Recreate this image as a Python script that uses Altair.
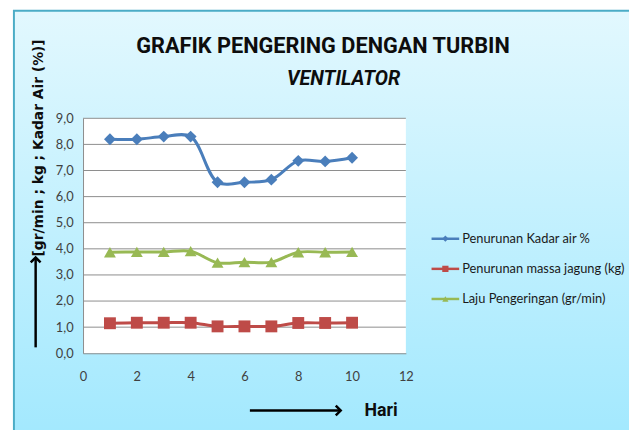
import altair as alt
import pandas as pd

# ---- data ----
hari = [1, 2, 3, 4, 5, 6, 7, 8, 9, 10]
kadar_air = [8.2, 8.2, 8.3, 8.3, 6.55, 6.55, 6.65, 7.37, 7.35, 7.49]
massa_jagung = [1.15, 1.17, 1.17, 1.17, 1.03, 1.03, 1.03, 1.16, 1.16, 1.17]
laju = [3.87, 3.88, 3.88, 3.91, 3.47, 3.49, 3.49, 3.87, 3.87, 3.88]

series_names = ["Penurunan Kadar air %", "Penurunan massa jagung (kg)", "Laju Pengeringan (gr/min)"]
series_colors = ["#4a7ebb", "#be4b48", "#98b954"]
series_shapes = ["diamond", "square", "triangle-up"]
x_ticks = [0, 2, 4, 6, 8, 10, 12]
y_ticks = [0, 1, 2, 3, 4, 5, 6, 7, 8, 9]

title1 = "GRAFIK PENGERING DENGAN TURBIN"
title2 = "VENTILATOR"
y_title = "[gr/min ; kg ; Kadar Air (%)]"
x_title = "Hari"

rows = []
for name, vals in zip(series_names, [kadar_air, massa_jagung, laju]):
    for h, v in zip(hari, vals):
        rows.append({"hari": h, "value": v, "series": name})
df = pd.DataFrame(rows)
one = pd.DataFrame({"a": [0]})

W, H = 327, 238

xscale = alt.Scale(domain=[0, 12], nice=False)
yscale = alt.Scale(domain=[0, 9], nice=False)
xaxis = alt.Axis(values=x_ticks, grid=False, ticks=False, domainColor="#8c8c8c",
                 labelFont="Lato", labelFontSize=13, labelColor="#404040",
                 labelPadding=18, title=None, zindex=1, labelFlush=False)
yaxis = alt.Axis(values=y_ticks, grid=False, ticks=False, domainColor="#8c8c8c",
                 labelExpr="replace(format(datum.value, '.1f'), '.', ',')",
                 labelFont="Lato", labelFontSize=13, labelColor="#404040",
                 labelPadding=10, title=None, zindex=1)
X = alt.X("hari:Q", scale=xscale, axis=xaxis)
Y = alt.Y("value:Q", scale=yscale, axis=yaxis)
color = alt.Color("series:N", scale=alt.Scale(domain=series_names, range=series_colors), legend=None)
shape = alt.Shape("series:N", scale=alt.Scale(domain=series_names, range=series_shapes), legend=None)

grad = alt.LinearGradient(gradient="linear", x1=0, y1=0, x2=0, y2=1,
                          stops=[alt.GradientStop(color="#e2f8fe", offset=0),
                                 alt.GradientStop(color="#a0e8fe", offset=1)])

bg = alt.Chart(one).mark_rect(fill=grad, stroke="#4bacc6", strokeWidth=2).encode(
    x=alt.value(-70), x2=alt.value(620), y=alt.value(-109), y2=alt.value(340))
plotbg = alt.Chart(one).mark_rect(fill="white").encode(
    x=alt.value(0), x2=alt.value(W), y=alt.value(0), y2=alt.value(H))
grid = alt.Chart(pd.DataFrame({"value": y_ticks[1:]})).mark_rule(color="#8c8c8c", strokeWidth=1).encode(y=Y)

lines = alt.Chart(df).mark_line(strokeWidth=3, interpolate="catmull-rom").encode(x=X, y=Y, color=color)
points = alt.Chart(df).mark_point(filled=True, opacity=1, size=145).encode(x=X, y=Y, color=color, shape=shape)

layers = [bg, plotbg, grid, lines, points]

# legend (manual)
leg_y0, leg_dy = 122, 30.5
for i, (name, col, shp) in enumerate(zip(series_names, series_colors, series_shapes)):
    yy = leg_y0 + leg_dy * i
    layers.append(alt.Chart(one).mark_rule(color=col, strokeWidth=2.5).encode(
        x=alt.value(353), x2=alt.value(381), y=alt.value(yy)))
    layers.append(alt.Chart(one).mark_point(shape=shp, filled=True, opacity=1, color=col, size=40).encode(
        x=alt.value(367), y=alt.value(yy)))
    layers.append(alt.Chart(one).mark_text(text=name, align="left", baseline="middle", font="Lato",
                                           fontSize=13, color="#1a1a1a").encode(
        x=alt.value(384), y=alt.value(yy)))

# titles
layers.append(alt.Chart(one).mark_text(text=title1, align="center", baseline="middle", font="Roboto",
                                       fontWeight="bold", fontSize=22, color="#0d0d0d").encode(
    x=alt.value(243), y=alt.value(-73)))
layers.append(alt.Chart(one).mark_text(text=title2, align="center", baseline="middle", font="Roboto",
                                       fontWeight="bold", fontStyle="italic", fontSize=20, color="#0d0d0d").encode(
    x=alt.value(264), y=alt.value(-40)))
layers.append(alt.Chart(one).mark_text(text=y_title, align="center", baseline="middle", font="DejaVu Sans",
                                       fontWeight="bold", fontSize=14, angle=270, color="#0d0d0d").encode(
    x=alt.value(-45), y=alt.value(30)))
layers.append(alt.Chart(one).mark_text(text=x_title, align="left", baseline="middle", font="Roboto",
                                       fontWeight="bold", fontSize=18, color="#0d0d0d").encode(
    x=alt.value(285), y=alt.value(297)))

# arrows
layers.append(alt.Chart(one).mark_rule(color="black", strokeWidth=2.5).encode(
    x=alt.value(-48), y=alt.value(232), y2=alt.value(142)))
layers.append(alt.Chart(one).mark_point(shape="M-1,1L0,0L1,1", filled=False, color="black",
                                        strokeWidth=2.5, size=100, opacity=1).encode(
    x=alt.value(-48), y=alt.value(141)))
layers.append(alt.Chart(one).mark_rule(color="black", strokeWidth=2.5).encode(
    x=alt.value(169), x2=alt.value(260), y=alt.value(296)))
layers.append(alt.Chart(one).mark_point(shape="M-1,-1L0,0L-1,1", filled=False, color="black",
                                        strokeWidth=2.5, size=100, opacity=1).encode(
    x=alt.value(261), y=alt.value(296)))

chart = alt.layer(*layers).properties(
    width=W, height=H, autosize="none",
    padding={"left": 76, "top": 109, "right": 226, "bottom": 75},
    background="white",
).configure_view(strokeWidth=0)

chart.save("out.html", embed_options={"renderer": "svg", "actions": False})
